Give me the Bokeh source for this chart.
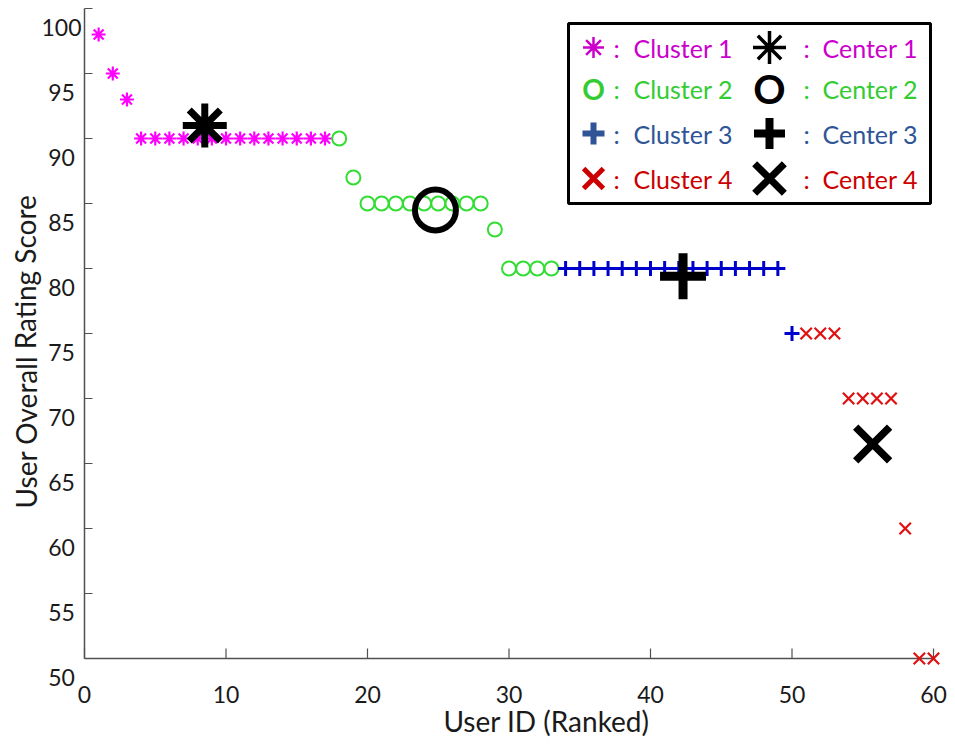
from bokeh.plotting import figure
from bokeh.models import Range1d, ColumnDataSource, BoxAnnotation
from bokeh.core.properties import value
from bokeh.embed import file_html
from bokeh.resources import INLINE

# ---- data: users ranked by overall rating, grouped into four clusters ----
cluster1_x = [1, 2, 3, 4, 5, 6, 7, 8, 9, 10, 11, 12, 13, 14, 15, 16, 17]
cluster1_y = [98, 95, 93, 90, 90, 90, 90, 90, 90, 90, 90, 90, 90, 90, 90, 90, 90]

cluster2_x = [18, 19, 20, 21, 22, 23, 24, 25, 26, 27, 28, 29, 30, 31, 32, 33]
cluster2_y = [90, 87, 85, 85, 85, 85, 85, 85, 85, 85, 85, 83, 80, 80, 80, 80]

cluster3_x = [34, 35, 36, 37, 38, 39, 40, 41, 42, 43, 44, 45, 46, 47, 48, 49, 50]
cluster3_y = [80, 80, 80, 80, 80, 80, 80, 80, 80, 80, 80, 80, 80, 80, 80, 80, 75]

cluster4_x = [51, 52, 53, 54, 55, 56, 57, 58, 59, 60]
cluster4_y = [75, 75, 75, 70, 70, 70, 70, 60, 50, 50]

center_x = [8.5, 24.8, 42.3, 55.7]
center_y = [91.0, 84.5, 79.4, 66.5]

x_ticks = [0, 10, 20, 30, 40, 50, 60]
y_ticks = [50, 55, 60, 65, 70, 75, 80, 85, 90, 95, 100]

legend_cluster_labels = ["Cluster 1", "Cluster 2", "Cluster 3", "Cluster 4"]
legend_center_labels = ["Center 1", "Center 2", "Center 3", "Center 4"]

MAGENTA = "#ff00ff"
GREEN = "#33dd33"
BLUE = "#0000cc"
RED = "#e01010"
TEXT_COLORS = ["#cc00cc", "#33cc33", "#2f5597", "#cc0000"]
FONT = "Lato"
INK = "#1a1a1a"
AXIS_COLOR = "#505050"

# ---- canvas geometry (pixels); the plot frame fills the whole canvas ----
W, H = 955, 745
ORIGIN_X_PX = 84      # user 0
ORIGIN_Y_PX = 658     # rating 50
PX_X = 14.15          # pixels per user
PX_Y = 13.0           # pixels per rating point
X0, Y0 = x_ticks[0], y_ticks[0]
X1, Y1 = x_ticks[-1], y_ticks[-1]


def dx(px):
    return X0 + (px - ORIGIN_X_PX) / PX_X


def dy(py):
    return Y0 + (ORIGIN_Y_PX - py) / PX_Y


p = figure(width=W, height=H, output_backend="svg", toolbar_location=None,
           x_range=Range1d(dx(0), dx(W)), y_range=Range1d(dy(H), dy(0)),
           x_axis_location=None, y_axis_location=None, min_border=0)
p.outline_line_color = None
p.grid.visible = False
p.background_fill_color = "white"

# ---- axes: lines, inward ticks and numbers ----
p.segment(x0=[X0, X0], y0=[Y0, Y0], x1=[X1, X0], y1=[Y0, Y1],
          line_color=AXIS_COLOR, line_width=1.5)
p.segment(x0=x_ticks, y0=[Y0] * len(x_ticks), x1=x_ticks,
          y1=[Y0 + 10 / PX_Y] * len(x_ticks), line_color=AXIS_COLOR, line_width=1.2)
p.segment(x0=[X0] * len(y_ticks), y0=y_ticks, x1=[X0 + 8 / PX_X] * len(y_ticks),
          y1=y_ticks, line_color=AXIS_COLOR, line_width=1.2)

p.text(x=x_ticks, y=[dy(694)] * len(x_ticks), text=[str(t) for t in x_ticks],
       text_align="center", text_baseline="middle", text_font=value(FONT),
       text_font_size="23px", text_color=INK)
# rating numbers sit slightly below their ticks
p.text(x=[dx(61)] * len(y_ticks), y=[t - 19 / PX_Y for t in y_ticks],
       text=[str(t) for t in y_ticks], text_align="center", text_baseline="middle",
       text_font=value(FONT), text_font_size="23px", text_color=INK)

# axis titles
p.text(x=[dx(546)], y=[dy(720)], text=["User ID (Ranked)"], text_align="center",
       text_baseline="middle", text_font=value(FONT), text_font_size="28px", text_color=INK)
p.text(x=[dx(25)], y=[dy(351)], text=["User Overall Rating Score"], angle=1.5708,
       text_align="center", text_baseline="middle", text_font=value(FONT),
       text_font_size="28px", text_color=INK)

# ---- cluster members ----
p.scatter(cluster1_x, cluster1_y, marker="asterisk", size=14, line_color=MAGENTA, line_width=2.2)
p.scatter(cluster2_x, cluster2_y, marker="circle", size=14, fill_color=None,
          line_color=GREEN, line_width=2)
p.scatter(cluster3_x, cluster3_y, marker="cross", size=15, line_color=BLUE, line_width=3)
p.scatter(cluster4_x, cluster4_y, marker="x", size=16, line_color=RED, line_width=2.2)

# ---- cluster centers ----
p.scatter([center_x[0]], [center_y[0]], marker="asterisk", size=44, line_color="black", line_width=7)
p.scatter([center_x[1]], [center_y[1]], marker="circle", size=41, fill_color=None,
          line_color="black", line_width=6)
p.scatter([center_x[2]], [center_y[2]], marker="cross", size=46, line_color="black", line_width=9)
p.scatter([center_x[3]], [center_y[3]], marker="x", size=48, line_color="black", line_width=7.5)

# ---- legend box ----
p.add_layout(BoxAnnotation(left=dx(568), right=dx(930), top=dy(23), bottom=dy(203),
                           fill_color="white", fill_alpha=1.0,
                           line_color="black", line_width=3, line_alpha=1.0))

row_py = [47, 88, 133, 178]
row_y = [dy(v) for v in row_py]
sym1_x, colon1_x, text1_x = dx(593), dx(616), dx(633)
sym2_x, colon2_x, text2_x = dx(769), dx(806), dx(822)

# small symbols
p.scatter([sym1_x], [row_y[0]], marker="asterisk", size=21, line_color="#cc00cc", line_width=2.5,
          level="overlay")
p.text([sym1_x], [row_y[1]], text=["O"], text_align="center", text_baseline="middle",
       text_font=value(FONT), text_font_style="bold", text_font_size="28px",
       text_color="#33cc33", level="overlay")
p.scatter([sym1_x], [row_y[2]], marker="cross", size=22, line_color="#2f5597", line_width=6,
          level="overlay")
p.scatter([sym1_x], [row_y[3]], marker="x", size=28, line_color="#cc0000", line_width=5,
          level="overlay")

# big symbols
p.scatter([sym2_x], [row_y[0]], marker="asterisk", size=33, line_color="black", line_width=3.5,
          level="overlay")
p.text([sym2_x], [row_y[1]], text=["O"], text_align="center", text_baseline="middle",
       text_font=value(FONT), text_font_style="bold", text_font_size="40px",
       text_color="black", level="overlay")
p.scatter([sym2_x], [row_y[2]], marker="cross", size=31, line_color="black", line_width=8,
          level="overlay")
p.scatter([sym2_x], [row_y[3]], marker="x", size=42, line_color="black", line_width=7,
          level="overlay")

leg_src = ColumnDataSource(dict(
    y=row_y,
    c1=legend_cluster_labels,
    c2=legend_center_labels,
    colon=[":"] * 4,
    color=TEXT_COLORS))
for xpos, col in [(colon1_x, "colon"), (text1_x, "c1"), (colon2_x, "colon"), (text2_x, "c2")]:
    p.text(x=xpos, y="y", text=col, source=leg_src, text_align="left" if col != "colon" else "center",
           text_baseline="middle", text_font=value(FONT), text_font_size="25px",
           text_color="color", level="overlay")

open("out.html", "w").write(file_html(p, INLINE))
